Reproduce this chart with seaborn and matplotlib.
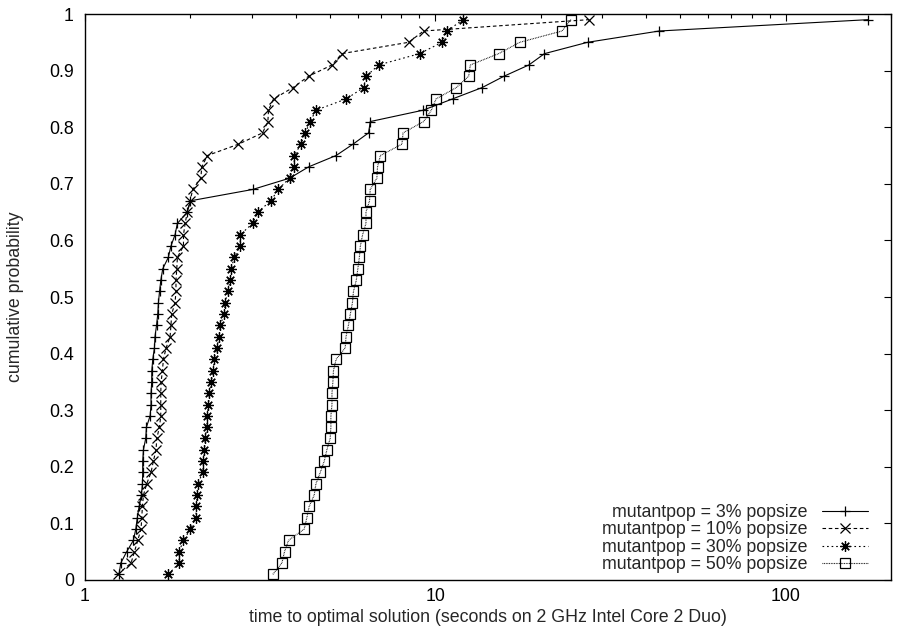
import numpy as np
import pandas as pd
import matplotlib
matplotlib.use("Agg")
import matplotlib.pyplot as plt
import matplotlib.ticker as mticker
import seaborn as sns

# cumulative probability levels (50 runs each)
prob = [round(0.01 + 0.02 * i, 2) for i in range(50)]

time_3 = [1.25, 1.265, 1.315, 1.374, 1.396, 1.41, 1.427, 1.449, 1.458, 1.461,
          1.461, 1.468, 1.49, 1.497, 1.534, 1.543, 1.543, 1.55, 1.551, 1.561,
          1.578, 1.584, 1.60, 1.613, 1.62, 1.632, 1.646, 1.667, 1.729, 1.759,
          1.807, 1.835, 1.959, 2.0, 3.01, 3.84, 4.35, 5.21, 5.82, 6.45,
          6.52, 9.22, 11.2, 13.6, 15.7, 18.5, 20.5, 27.2, 43.6, 172.0]
time_10 = [1.24, 1.353, 1.384, 1.414, 1.445, 1.452, 1.458, 1.468, 1.50, 1.543,
           1.567, 1.595, 1.602, 1.631, 1.645, 1.645, 1.645, 1.649, 1.663, 1.674,
           1.704, 1.749, 1.759, 1.768, 1.807, 1.818, 1.818, 1.828, 1.835, 1.91,
           1.91, 1.931, 1.959, 1.995, 2.03, 2.141, 2.154, 2.236, 2.742, 3.212,
           3.327, 3.34, 3.452, 3.922, 4.346, 5.07, 5.41, 8.39, 9.26, 27.4]
time_30 = [1.73, 1.856, 1.856, 1.91, 2.0, 2.072, 2.08, 2.089, 2.098, 2.169,
           2.178, 2.193, 2.203, 2.227, 2.236, 2.251, 2.265, 2.291, 2.326, 2.335,
           2.378, 2.415, 2.431, 2.5, 2.51, 2.556, 2.596, 2.613, 2.666, 2.773,
           2.773, 3.01, 3.114, 3.393, 3.56, 3.835, 3.955, 3.955, 4.133, 4.253,
           4.394, 4.562, 5.568, 6.24, 6.35, 6.89, 9.02, 10.45, 10.8, 12.0]
time_50 = [3.438, 3.648, 3.711, 3.81, 4.224, 4.298, 4.365, 4.511, 4.562, 4.694,
           4.818, 4.903, 5.01, 5.034, 5.034, 5.07, 5.07, 5.10, 5.12, 5.21,
           5.53, 5.56, 5.65, 5.72, 5.80, 5.84, 5.95, 6.01, 6.07, 6.11,
           6.20, 6.34, 6.34, 6.49, 6.52, 6.81, 6.84, 6.97, 8.03, 8.09,
           9.26, 9.74, 10.05, 11.48, 12.45, 12.59, 15.17, 17.42, 23.0, 24.4]

labels = ["mutantpop = 3% popsize", "mutantpop = 10% popsize",
          "mutantpop = 30% popsize", "mutantpop = 50% popsize"]
marker_list = ["+", "x", (8, 2, 0), "s"]
dash_list = ["-", (0, (3.2, 2.4)), (0, (1.5, 2.6)), (0, (0.7, 0.8))]
size_list = [7.5, 7, 7.5, 6.5]

sns.set_style("white")
plt.rcParams["font.family"] = ["Liberation Sans", "DejaVu Sans"]
FS = 12.8

fig = plt.figure(figsize=(8.98, 6.37), dpi=100)
ax = fig.add_axes([0.0947, 0.0895, 0.8975, 0.8885])

for t, lab, mk, ls, ms in zip([time_3, time_10, time_30, time_50], labels,
                              marker_list, dash_list, size_list):
    d = pd.DataFrame({"time": t, "prob": prob})
    sns.lineplot(data=d, x="time", y="prob", estimator=None, sort=False,
                 ax=ax, color="black", label=lab, linestyle=ls,
                 linewidth=0.8, marker=mk, markersize=ms,
                 markeredgecolor="black", markeredgewidth=0.9,
                 fillstyle="none")

ax.set_xscale("log")
ax.set_xlim(1, 200)
ax.set_ylim(0, 1)
ax.set_xticks([1, 10, 100])
ax.set_xticklabels(["1", "10", "100"])
ax.xaxis.set_minor_locator(mticker.LogLocator(base=10, subs=np.arange(2, 10)))
ax.xaxis.set_minor_formatter(mticker.NullFormatter())
ax.set_yticks(np.arange(0, 1.01, 0.1))
ax.set_yticklabels(["0", "0.1", "0.2", "0.3", "0.4", "0.5", "0.6", "0.7",
                    "0.8", "0.9", "1"])

ax.tick_params(which="both", direction="in", top=True, right=True,
               labelsize=FS, colors="black", width=0.8)
ax.tick_params(which="major", length=5)
ax.tick_params(which="minor", length=3)
ax.tick_params(axis="x", which="major", pad=6)
ax.tick_params(axis="y", which="major", pad=8)
for s in ax.spines.values():
    s.set_color("black")
    s.set_linewidth(1.0)

ax.set_xlabel("time to optimal solution (seconds on 2 GHz Intel Core 2 Duo)",
              fontsize=FS, labelpad=3)
ax.set_ylabel("cumulative probability", fontsize=FS, labelpad=18)

handles, labs = ax.get_legend_handles_labels()
ax.legend(handles, labs, loc="lower right", bbox_to_anchor=(0.9715, 0.012),
          markerfirst=False, frameon=False, fontsize=FS, handlelength=2.6,
          handletextpad=0.8, labelspacing=0.02, borderpad=0, borderaxespad=0)

fig.savefig("out.png", dpi=100)
